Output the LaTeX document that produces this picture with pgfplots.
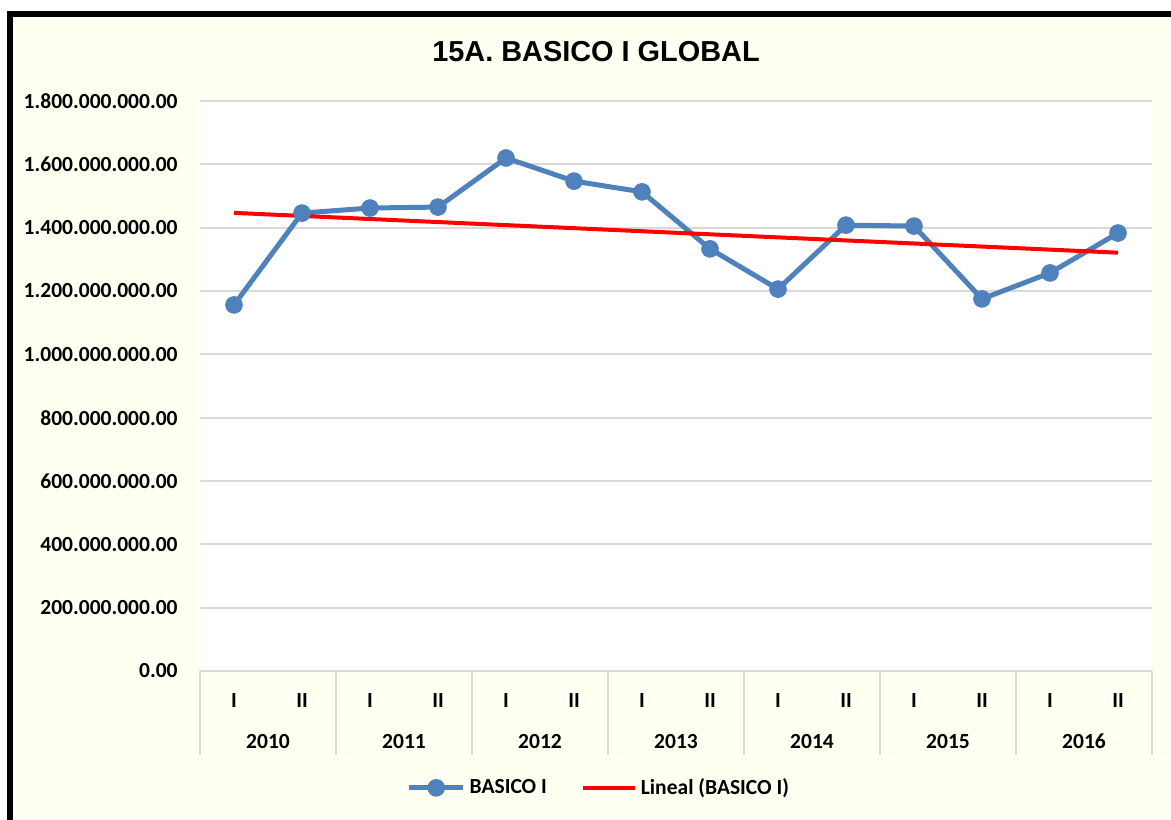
\documentclass[border=0pt]{standalone}
\usepackage{fontspec}
\setmainfont{Carlito}
\newfontfamily\titlefont{Liberation Sans}
\usepackage{pgfplots}
\pgfplotsset{compat=1.18}
\definecolor{bgyellow}{RGB}{255,255,242}
\definecolor{linblue}{RGB}{79,129,189}
\definecolor{gridgray}{RGB}{217,217,217}
\pgfplotsset{
  markline legend/.style={legend image code/.code={
    \draw[##1, mark repeat=2, mark phase=2] plot coordinates {(0bp,0bp) (13.5bp,0bp) (27bp,0bp)};}},
  plainline legend/.style={legend image code/.code={
    \draw[##1] (0bp,0bp) -- (26bp,0bp);}},
}

\begin{document}
\begin{tikzpicture}
\useasboundingbox (0,0) rectangle (585.5bp,410bp);
\fill[white] (0,0) rectangle (585.5bp,410bp);
\fill[bgyellow] (5bp,0) rectangle (585.5bp,403bp);
\draw[black, line width=2.8bp] (5bp,-2bp) -- (5bp,403bp) -- (590bp,403bp);
\node[font=\titlefont\bfseries\fontsize{14.5}{17}\selectfont] at (298bp,384bp) {15A. BASICO I GLOBAL};
\begin{axis}[
  at={(100bp,74.5bp)}, anchor=south west,
  scale only axis, width=476bp, height=285bp,
  xmin=0.5, xmax=14.5,
  ymin=0, ymax=1800000000,
  scaled y ticks=false,
  axis background/.style={fill=white},
  axis x line*=bottom, axis y line*=left,
  x axis line style={draw=gridgray, line width=1bp, -},
  y axis line style={draw=none},
  major tick length=0pt,
  xtick={1,...,14},
  xticklabels={I,II,I,II,I,II,I,II,I,II,I,II,I,II},
  extra x ticks={1.5,3.5,5.5,7.5,9.5,11.5,13.5},
  extra x tick labels={2010,2011,2012,2013,2014,2015,2016},
  extra x tick style={xticklabel style={yshift=-20.5bp}},
  xticklabel style={anchor=base, inner sep=0pt, yshift=-18bp},
  ytick={0,200000000,400000000,600000000,800000000,1000000000,1200000000,1400000000,1600000000,1800000000},
  yticklabels={0.00,200.000.000.00,400.000.000.00,600.000.000.00,800.000.000.00,1.000.000.000.00,1.200.000.000.00,1.400.000.000.00,1.600.000.000.00,1.800.000.000.00},
  yticklabel style={anchor=east, inner sep=0pt, xshift=-11bp},
  tick label style={font=\bfseries\fontsize{10.8}{13}\selectfont},
  ymajorgrids,
  grid style={draw=gridgray, line width=1bp},
  clip=false,
  legend style={at={(0.42,-0.205)}, anchor=center, legend columns=2,
    draw=none, fill=none, font=\bfseries\fontsize{10.8}{13}\selectfont,
    /tikz/every even column/.append style={column sep=15bp}},
]
\pgfplotsinvokeforeach{0.5,2.5,4.5,6.5,8.5,10.5,12.5,14.5}{
  \draw[gridgray, line width=1bp] (axis cs:#1,0) -- ++(0bp,-42bp);
}
\addplot[color=linblue, line width=2.5bp, mark=*, mark size=4.2bp,
  mark options={solid, fill=linblue, draw=linblue, line width=0.4bp},
  markline legend]
coordinates {
(1,1156000000) (2,1446000000) (3,1462000000) (4,1465000000)
(5,1620000000) (6,1547000000) (7,1513000000) (8,1333000000)
(9,1206000000) (10,1408000000) (11,1405000000) (12,1175000000)
(13,1257000000) (14,1383000000)
};
\addlegendentry{BASICO I}
\addplot[color=red, line width=2bp, no marks, plainline legend]
coordinates {(1,1446700000) (14,1321000000)};
\addlegendentry{Lineal (BASICO I)}
\end{axis}
\end{tikzpicture}
\end{document}
